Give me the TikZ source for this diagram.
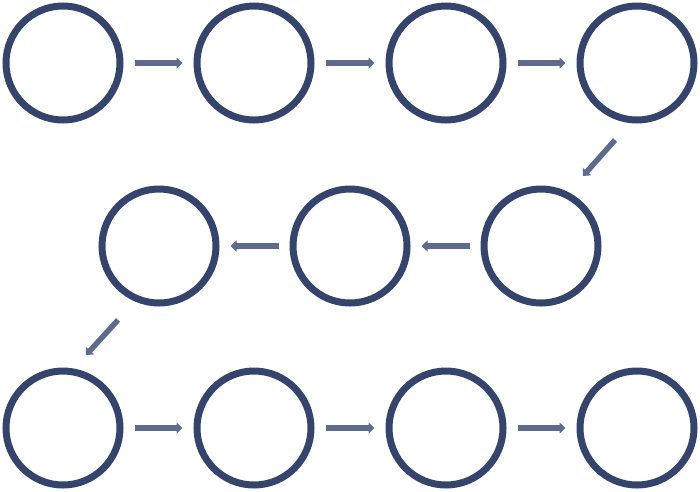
\documentclass[tikz,border=0pt]{standalone}
\usetikzlibrary{arrows.meta,positioning}
\definecolor{ringblue}{HTML}{34446C}
\definecolor{arrowblue}{HTML}{5D6B8F}
\tikzset{
  ring/.style={circle, draw=ringblue, line width=7pt, minimum size=114pt, inner sep=0pt},
  flow/.style={draw=arrowblue, line width=5.5pt, -{Triangle[length=6pt,width=11pt]}}
}
\begin{document}
\begin{tikzpicture}[x=1pt,y=-1pt]
\useasboundingbox (0,0) rectangle (700,491);

% top row
\node[ring] (c1) at (63,63) {};
\node[ring] (c2) at (254,63) {};
\node[ring] (c3) at (446,63) {};
\node[ring] (c4) at (637,63) {};

% middle row
\node[ring] (c5) at (541,246) {};
\node[ring] (c6) at (350,246) {};
\node[ring] (c7) at (159,246) {};

% bottom row
\node[ring] (c8) at (63,428) {};
\node[ring] (c9) at (254,428) {};
\node[ring] (c10) at (446,428) {};
\node[ring] (c11) at (637,428) {};

% connectors
\foreach \a/\b in {c1/c2,c2/c3,c3/c4,c5/c6,c6/c7,c8/c9,c9/c10,c10/c11}
  \draw[flow, shorten <=11pt, shorten >=11pt] (\a) -- (\b);
\coordinate (d1a) at (615,140);
\coordinate (d1b) at (583,176);
\coordinate (d2a) at (118,320);
\coordinate (d2b) at (86,355);
\draw[flow] (d1a) -- (d1b);
\draw[flow] (d2a) -- (d2b);

\end{tikzpicture}
\end{document}
